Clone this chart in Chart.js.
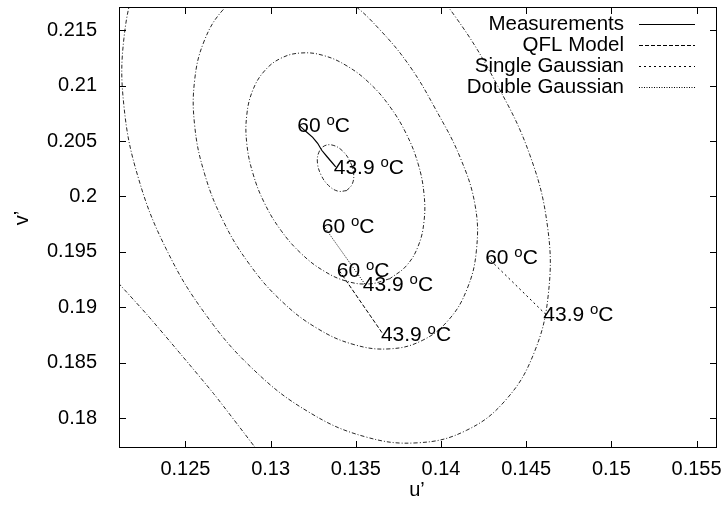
<!DOCTYPE html>
<html>
<head>
<meta charset="utf-8">
<script src="https://cdn.jsdelivr.net/npm/chart.js@4.4.1/dist/chart.umd.min.js"></script>
<style>
  html, body { margin: 0; padding: 0; background: #fff; }
  canvas { display: block; }
</style>
</head>
<body>
<canvas id="chart" width="724" height="510"></canvas>
<script>
// Chromaticity shift (u', v') between 60 °C and 43.9 °C, measured and modelled,
// drawn over the contour lines of the fitted distribution.

const seriesNames = ['Measurements', 'QFL Model', 'Single Gaussian', 'Double Gaussian'];
const tempLabels = ['60', '43.9'];          // first point, last point of each series

const measurements = [
  [0.13168, 0.20642], [0.13206, 0.20588], [0.13247, 0.20534], [0.13276, 0.20480],
  [0.13300, 0.20417], [0.13329, 0.20363], [0.13359, 0.20309], [0.13382, 0.20268]
];
const qflModel = [[0.13400, 0.19336], [0.13659, 0.18759]];
const singleGaussian = [[0.14271, 0.19453], [0.14612, 0.18940]];
const doubleGaussian = [[0.13312, 0.19732], [0.13553, 0.19210]];

// contour lines, innermost first
const contourA = [
  [0.13446, 0.20053], [0.13395, 0.20048], [0.13340, 0.20099], [0.13297, 0.20191],
  [0.13275, 0.20301], [0.13283, 0.20398], [0.13316, 0.20457], [0.13367, 0.20462],
  [0.13422, 0.20411], [0.13465, 0.20319], [0.13487, 0.20209], [0.13479, 0.20112],
  [0.13446, 0.20053]
];
const contourB = [
  [0.13700, 0.19258], [0.13581, 0.19211], [0.13449, 0.19234], [0.13312, 0.19328],
  [0.13180, 0.19484], [0.13061, 0.19693], [0.12964, 0.19940], [0.12896, 0.20208],
  [0.12860, 0.20479], [0.12860, 0.20735], [0.12895, 0.20958], [0.12964, 0.21133],
  [0.13061, 0.21248], [0.13179, 0.21295], [0.13311, 0.21272], [0.13448, 0.21178],
  [0.13581, 0.21022], [0.13699, 0.20813], [0.13796, 0.20566], [0.13865, 0.20298],
  [0.13900, 0.20027], [0.13900, 0.19771], [0.13865, 0.19548], [0.13796, 0.19373],
  [0.13700, 0.19258]
];
const contourC = [
  [0.13062, 0.21939], [0.13272, 0.21902], [0.13465, 0.21753], [0.13641, 0.21505],
  [0.13818, 0.21173], [0.13971, 0.20780], [0.14112, 0.20354], [0.14200, 0.19922],
  [0.14208, 0.19515], [0.14152, 0.19161], [0.14043, 0.18883], [0.13889, 0.18700],
  [0.13701, 0.18625], [0.13490, 0.18663], [0.13272, 0.18811], [0.13062, 0.19059],
  [0.12874, 0.19392], [0.12720, 0.19784], [0.12611, 0.20211], [0.12554, 0.20642],
  [0.12554, 0.21049], [0.12610, 0.21403], [0.12719, 0.21682], [0.12873, 0.21864],
  [0.13062, 0.21939]
];
const contourD = [
  [0.12903, 0.22769], [0.13220, 0.22713], [0.13548, 0.22489], [0.13818, 0.22115],
  [0.14088, 0.21614], [0.14324, 0.21023], [0.14520, 0.20381], [0.14625, 0.19731],
  [0.14630, 0.19118], [0.14545, 0.18584], [0.14381, 0.18165], [0.14149, 0.17889],
  [0.13865, 0.17777], [0.13549, 0.17834], [0.13221, 0.18057], [0.12904, 0.18431],
  [0.12620, 0.18932], [0.12388, 0.19523], [0.12224, 0.20165], [0.12139, 0.20815],
  [0.12139, 0.21428], [0.12223, 0.21962], [0.12387, 0.22381], [0.12619, 0.22657],
  [0.12903, 0.22769]
];
const contourE = [
  [0.12024, 0.19354], [0.12106, 0.19219], [0.12276, 0.18931], [0.12476, 0.18570],
  [0.12671, 0.18210], [0.12906, 0.17741], [0.12994, 0.17561]
];

const xTicks = [0.125, 0.13, 0.135, 0.14, 0.145, 0.15, 0.155];
const xTickLabels = ['0.125', '0.13', '0.135', '0.14', '0.145', '0.15', '0.155'];
const yTicks = [0.18, 0.185, 0.19, 0.195, 0.2, 0.205, 0.21, 0.215];
const yTickLabels = ['0.18', '0.185', '0.19', '0.195', '0.2', '0.205', '0.21', '0.215'];
const xRange = [0.1211, 0.1562];
const yRange = [0.1773, 0.2171];

const FONT = "'Liberation Sans', Arial, Helvetica, sans-serif";
const INK = '#000';

const toPoints = arr => arr.map(([x, y]) => ({ x, y }));

const lineStyles = [
  { dash: [], width: 1.2 },
  { dash: [4, 2], width: 1 },
  { dash: [2, 3], width: 1 },
  { dash: [1, 1.5], width: 1 }
];
const lineSeries = [measurements, qflModel, singleGaussian, doubleGaussian];
const contours = [
  { pts: contourA, tension: 0.4 },
  { pts: contourB, tension: 0.4 },
  { pts: contourC, tension: 0.4 },
  { pts: contourD, tension: 0.4 },
  { pts: contourE, tension: 0.2 }
];

const datasets = [];
contours.forEach(c => datasets.push({
  label: '',
  data: toPoints(c.pts),
  showLine: true,
  borderColor: 'rgba(0,0,0,0.85)',
  borderWidth: 1,
  borderDash: [4, 2, 1, 2],
  tension: c.tension,
  pointRadius: 0,
  fill: false,
  clip: 0
}));
lineSeries.forEach((s, i) => datasets.push({
  label: seriesNames[i],
  data: toPoints(s),
  tagged: true,
  showLine: true,
  borderColor: INK,
  borderWidth: lineStyles[i].width,
  borderDash: lineStyles[i].dash,
  tension: 0,
  pointRadius: 0,
  fill: false,
  clip: 0
}));

// "60 °C" style tag: value, raised small "o", then "C"
function drawTemp(ctx, px, py, value) {
  const base = py + 7;
  ctx.textAlign = 'left';
  ctx.textBaseline = 'alphabetic';
  ctx.font = `21px ${FONT}`;
  const head = value + ' ';
  ctx.fillText(head, px, base);
  let cx = px + ctx.measureText(head).width;
  ctx.font = `15px ${FONT}`;
  ctx.fillText('o', cx, base - 7);
  cx += ctx.measureText('o').width;
  ctx.font = `21px ${FONT}`;
  ctx.fillText('C', cx, base);
}

const tempTags = {
  id: 'tempTags',
  afterDatasetsDraw(chart) {
    const { ctx, scales: { x, y } } = chart;
    ctx.save();
    ctx.fillStyle = INK;
    chart.data.datasets.forEach(ds => {
      if (!ds.tagged) return;
      const ends = [ds.data[0], ds.data[ds.data.length - 1]];
      ends.forEach((p, i) => drawTemp(ctx, x.getPixelForValue(p.x) - 2, y.getPixelForValue(p.y), tempLabels[i]));
    });
    ctx.restore();
  }
};

// box round the plot with inward tick marks on all four sides, plus axis titles
const frame = {
  id: 'frame',
  afterDatasetsDraw(chart) {
    const { ctx, chartArea: a, scales: { x, y } } = chart;
    const len = 7;
    ctx.save();
    ctx.strokeStyle = INK;
    ctx.lineWidth = 1;
    ctx.setLineDash([]);
    ctx.strokeRect(a.left + 0.5, a.top + 0.5, a.right - a.left - 1, a.bottom - a.top - 1);
    ctx.beginPath();
    xTicks.forEach(v => {
      const px = Math.round(x.getPixelForValue(v)) + 0.5;
      ctx.moveTo(px, a.bottom); ctx.lineTo(px, a.bottom - len);
      ctx.moveTo(px, a.top); ctx.lineTo(px, a.top + len);
    });
    yTicks.forEach(v => {
      const py = Math.round(y.getPixelForValue(v)) + 0.5;
      ctx.moveTo(a.left, py); ctx.lineTo(a.left + len, py);
      ctx.moveTo(a.right, py); ctx.lineTo(a.right - len, py);
    });
    ctx.stroke();

    ctx.fillStyle = INK;
    ctx.font = `20px ${FONT}`;
    ctx.textAlign = 'center';
    ctx.textBaseline = 'middle';
    ctx.fillText('u\u2019', (a.left + a.right) / 2 - 1, 490);
    ctx.translate(22, 218);
    ctx.rotate(-Math.PI / 2);
    ctx.fillText('v\u2019', 0, 0);
    ctx.restore();
  }
};

// key in the top right corner: name right-aligned, line sample after it
const key = {
  id: 'key',
  afterDatasetsDraw(chart) {
    const { ctx, chartArea: a } = chart;
    ctx.save();
    ctx.font = `20.5px ${FONT}`;
    ctx.textAlign = 'right';
    ctx.textBaseline = 'middle';
    ctx.fillStyle = INK;
    chart.data.datasets.filter(d => d.tagged).forEach((ds, i) => {
      const yy = a.top + 17 + i * 21.1;
      ctx.fillText(ds.label, a.right - 93, yy);
      ctx.setLineDash(ds.borderDash);
      ctx.lineWidth = ds.borderWidth;
      ctx.strokeStyle = ds.borderColor;
      ctx.beginPath();
      const ly = Math.round(yy) + 0.5;
      ctx.moveTo(a.right - 78, ly);
      ctx.lineTo(a.right - 22, ly);
      ctx.stroke();
    });
    ctx.restore();
  }
};

Chart.defaults.font.family = FONT;
Chart.defaults.color = INK;

new Chart(document.getElementById('chart'), {
  type: 'scatter',
  data: { datasets },
  options: {
    responsive: false,
    animation: false,
    events: [],
    layout: { padding: { top: 7, right: 7, left: 0, bottom: 0 } },
    plugins: { legend: { display: false }, tooltip: { enabled: false } },
    scales: {
      x: {
        type: 'linear',
        min: xRange[0],
        max: xRange[1],
        afterBuildTicks: s => { s.ticks = xTicks.map(value => ({ value })); },
        afterFit: s => { s.height = 62; s.paddingLeft = 0; s.paddingRight = 0; },
        grid: { display: false, drawTicks: false },
        border: { display: false },
        ticks: {
          autoSkip: false,
          maxRotation: 0,
          padding: 9,
          font: { size: 20 },
          color: INK,
          callback: (v, i) => xTickLabels[i]
        }
      },
      y: {
        type: 'linear',
        min: yRange[0],
        max: yRange[1],
        afterBuildTicks: s => { s.ticks = yTicks.map(value => ({ value })); },
        afterFit: s => { s.width = 119; s.paddingTop = 0; s.paddingBottom = 0; },
        grid: { display: false, drawTicks: false },
        border: { display: false },
        ticks: {
          autoSkip: false,
          padding: 22,
          font: { size: 20 },
          color: INK,
          callback: (v, i) => yTickLabels[i]
        }
      }
    }
  },
  plugins: [frame, tempTags, key]
});
</script>
</body>
</html>
